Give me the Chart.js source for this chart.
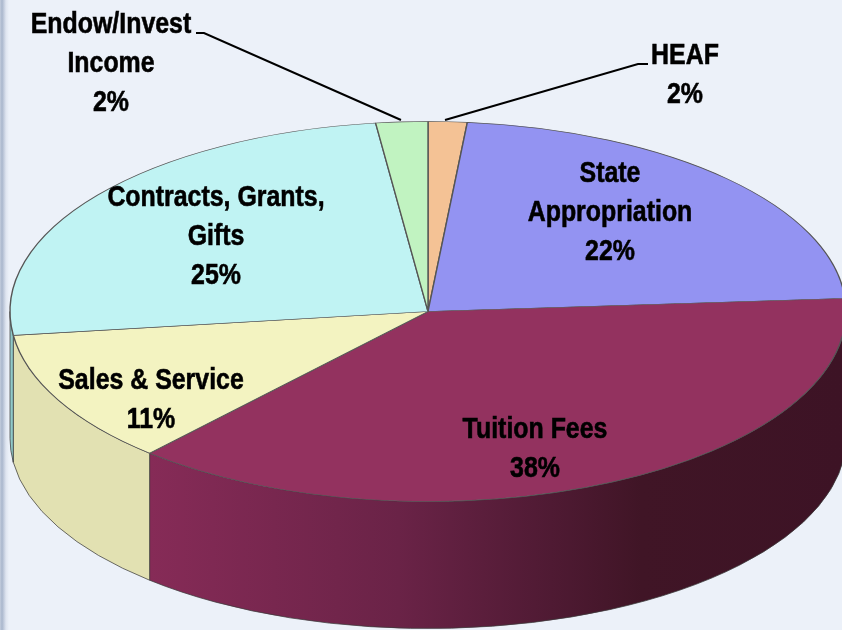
<!DOCTYPE html>
<html>
<head>
<meta charset="utf-8">
<style>
html,body{margin:0;padding:0;width:842px;height:630px;overflow:hidden;}
body{background:linear-gradient(to right,#c3cddd 0px,#a9b6cc 2px,#dfe5f0 6px,#ecf1f9 9px);}
canvas{display:block;}
</style>
</head>
<body>
<canvas id="chart" width="842" height="630"></canvas>
<script src="https://cdn.jsdelivr.net/npm/chart.js@4"></script>
<script>
/* ================= DATA ================= */
const categories = [
    ["HEAF"],
    ["State", "Appropriation"],
    ["Tuition Fees"],
    ["Sales & Service"],
    ["Contracts, Grants,", "Gifts"],
    ["Endow/Invest", "Income"]
];
const shares = [1.5, 22.4, 37.7, 11.4, 25, 2];
const sliceColors = ["#F4C295", "#9393F2", "#93325F", "#F3F3C1", "#C0F3F3", "#C1F3C1"];
const wallColors = ["#C29A76", "#7575C1", null, "#E2E1B2", "#8FC9C9", "#9AC29A"];

/* ================= LOOK ================= */
const SQUASH = 0.4545;     // top of the pie seen from an angle
const RADIUS = 418;
const WALL = 127;
const FONT = 'bold 30px "Liberation Sans", Arial, sans-serif';
const NARROW = 0.83;       // the original text is a condensed bold

// centre of each text block
const labelSpots = [
    [685, 75], [610, 213], [535, 449], [151, 400], [216, 237], [111, 64]
];
const leaders = [
    [[648, 64], [638, 64], [445, 120]],
    [[196, 33], [204, 33], [401, 120]]
];

/* ================= SIDE WALL ================= */
function tuitionGradient(ctx){
    let g = ctx.createLinearGradient(150, 0, 842, 0);
    g.addColorStop(0, "#862B57");
    g.addColorStop(0.36, "#6A2347");
    g.addColorStop(0.58, "#4F1A33");
    g.addColorStop(0.71, "#401526");
    g.addColorStop(1, "#3D1325");
    return g;
}

const wallPlugin = {
    id: "wall",
    beforeDatasetsDraw(chart){
        const ctx = chart.ctx;
        const arcs = chart.getDatasetMeta(0).data;
        const TWO_PI = Math.PI * 2;

        arcs.forEach((arc, i) => {
            let start = arc.startAngle;
            let end = arc.endAngle;
            // only the part facing the viewer, angles 0..PI
            for(let turn = -1; turn <= 1; turn++){
                let a0 = Math.max(start, turn * TWO_PI);
                let a1 = Math.min(end, turn * TWO_PI + Math.PI);
                if(a1 <= a0) continue;

                ctx.save();
                ctx.beginPath();
                ctx.ellipse(arc.x, arc.y, RADIUS, RADIUS * SQUASH, 0, a0, a1);
                ctx.lineTo(arc.x + RADIUS * Math.cos(a1), arc.y + RADIUS * SQUASH * Math.sin(a1) + WALL);
                ctx.ellipse(arc.x, arc.y + WALL, RADIUS, RADIUS * SQUASH, 0, a1, a0, true);
                ctx.closePath();
                ctx.fillStyle = wallColors[i] || tuitionGradient(ctx);
                ctx.fill();
                ctx.strokeStyle = "rgba(60,60,60,0.75)";
                ctx.lineWidth = 1;
                ctx.stroke();
                ctx.restore();
            }
        });

        // squash only the slices, not the text
        let first = arcs[0];
        ctx.save();
        ctx.translate(first.x, first.y);
        ctx.scale(1, SQUASH);
        ctx.translate(-first.x, -first.y);
    },
    afterDatasetsDraw(chart){
        chart.ctx.restore();
    }
};

/* ================= LABELS ================= */
const labelPlugin = {
    id: "sliceLabels",
    afterDraw(chart){
        const ctx = chart.ctx;
        ctx.save();

        ctx.strokeStyle = "#000";
        ctx.lineWidth = 2;
        leaders.forEach(line => {
            ctx.beginPath();
            line.forEach((p, i) => i ? ctx.lineTo(p[0], p[1]) : ctx.moveTo(p[0], p[1]));
            ctx.stroke();
        });

        ctx.font = FONT;
        ctx.fillStyle = "#000";
        ctx.lineWidth = 0.6;
        ctx.textAlign = "center";
        ctx.textBaseline = "middle";
        categories.forEach((lines, i) => {
            let all = lines.concat(Math.round(shares[i]) + "%");
            let top = labelSpots[i][1] - (all.length - 1) * 39 / 2;
            all.forEach((t, j) => {
                ctx.save();
                ctx.translate(labelSpots[i][0], top + j * 39);
                ctx.scale(NARROW, 1);
                ctx.fillText(t, 0, 0);
                ctx.strokeText(t, 0, 0);
                ctx.restore();
            });
        });
        ctx.restore();
    }
};

/* ================= CHART ================= */
new Chart(document.getElementById("chart"), {
    type: "pie",
    data: {
        labels: categories.map(c => c.join(" ")),
        datasets: [{
            data: shares,
            backgroundColor: sliceColors,
            borderColor: "#555",
            borderWidth: 1.4,
            radius: RADIUS,
            clip: false
        }]
    },
    options: {
        responsive: false,
        animation: false,
        events: [],
        layout: { padding: { left: 14, bottom: 7 } },
        plugins: { legend: { display: false }, tooltip: { enabled: false } }
    },
    plugins: [wallPlugin, labelPlugin]
});
</script>
</body>
</html>
